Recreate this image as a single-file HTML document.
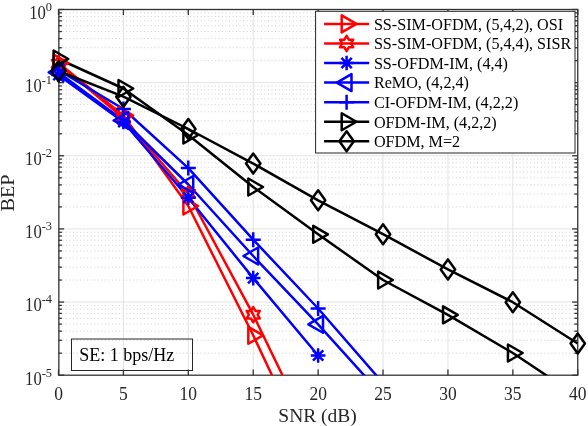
<!DOCTYPE html><html><head><meta charset="utf-8"><style>html,body{margin:0;padding:0;background:#fff;width:588px;height:426px;overflow:hidden;position:relative;font-family:"Liberation Serif",serif}</style></head><body><svg width="588" height="426" viewBox="0 0 588 426" style="position:absolute;left:0;top:0;will-change:transform">
<defs><clipPath id="ax"><rect x="58.5" y="9.5" width="519.25" height="365.7"/></clipPath></defs>
<g clip-path="url(#ax)">
<line x1="51.772" y1="60.62" x2="577.75" y2="60.62" stroke="#cfcfcf" stroke-width="1" stroke-dasharray="1 2.544"/>
<line x1="51.772" y1="47.74" x2="577.75" y2="47.74" stroke="#cfcfcf" stroke-width="1" stroke-dasharray="1 2.544"/>
<line x1="51.772" y1="38.61" x2="577.75" y2="38.61" stroke="#cfcfcf" stroke-width="1" stroke-dasharray="1 2.544"/>
<line x1="51.772" y1="31.52" x2="577.75" y2="31.52" stroke="#cfcfcf" stroke-width="1" stroke-dasharray="1 2.544"/>
<line x1="51.772" y1="25.73" x2="577.75" y2="25.73" stroke="#cfcfcf" stroke-width="1" stroke-dasharray="1 2.544"/>
<line x1="51.772" y1="20.83" x2="577.75" y2="20.83" stroke="#cfcfcf" stroke-width="1" stroke-dasharray="1 2.544"/>
<line x1="51.772" y1="16.59" x2="577.75" y2="16.59" stroke="#cfcfcf" stroke-width="1" stroke-dasharray="1 2.544"/>
<line x1="51.772" y1="12.85" x2="577.75" y2="12.85" stroke="#cfcfcf" stroke-width="1" stroke-dasharray="1 2.544"/>
<line x1="51.772" y1="133.76" x2="577.75" y2="133.76" stroke="#cfcfcf" stroke-width="1" stroke-dasharray="1 2.544"/>
<line x1="51.772" y1="120.88" x2="577.75" y2="120.88" stroke="#cfcfcf" stroke-width="1" stroke-dasharray="1 2.544"/>
<line x1="51.772" y1="111.75" x2="577.75" y2="111.75" stroke="#cfcfcf" stroke-width="1" stroke-dasharray="1 2.544"/>
<line x1="51.772" y1="104.66" x2="577.75" y2="104.66" stroke="#cfcfcf" stroke-width="1" stroke-dasharray="1 2.544"/>
<line x1="51.772" y1="98.87" x2="577.75" y2="98.87" stroke="#cfcfcf" stroke-width="1" stroke-dasharray="1 2.544"/>
<line x1="51.772" y1="93.97" x2="577.75" y2="93.97" stroke="#cfcfcf" stroke-width="1" stroke-dasharray="1 2.544"/>
<line x1="51.772" y1="89.73" x2="577.75" y2="89.73" stroke="#cfcfcf" stroke-width="1" stroke-dasharray="1 2.544"/>
<line x1="51.772" y1="85.99" x2="577.75" y2="85.99" stroke="#cfcfcf" stroke-width="1" stroke-dasharray="1 2.544"/>
<line x1="51.772" y1="206.90" x2="577.75" y2="206.90" stroke="#cfcfcf" stroke-width="1" stroke-dasharray="1 2.544"/>
<line x1="51.772" y1="194.02" x2="577.75" y2="194.02" stroke="#cfcfcf" stroke-width="1" stroke-dasharray="1 2.544"/>
<line x1="51.772" y1="184.89" x2="577.75" y2="184.89" stroke="#cfcfcf" stroke-width="1" stroke-dasharray="1 2.544"/>
<line x1="51.772" y1="177.80" x2="577.75" y2="177.80" stroke="#cfcfcf" stroke-width="1" stroke-dasharray="1 2.544"/>
<line x1="51.772" y1="172.01" x2="577.75" y2="172.01" stroke="#cfcfcf" stroke-width="1" stroke-dasharray="1 2.544"/>
<line x1="51.772" y1="167.11" x2="577.75" y2="167.11" stroke="#cfcfcf" stroke-width="1" stroke-dasharray="1 2.544"/>
<line x1="51.772" y1="162.87" x2="577.75" y2="162.87" stroke="#cfcfcf" stroke-width="1" stroke-dasharray="1 2.544"/>
<line x1="51.772" y1="159.13" x2="577.75" y2="159.13" stroke="#cfcfcf" stroke-width="1" stroke-dasharray="1 2.544"/>
<line x1="51.772" y1="280.04" x2="577.75" y2="280.04" stroke="#cfcfcf" stroke-width="1" stroke-dasharray="1 2.544"/>
<line x1="51.772" y1="267.16" x2="577.75" y2="267.16" stroke="#cfcfcf" stroke-width="1" stroke-dasharray="1 2.544"/>
<line x1="51.772" y1="258.03" x2="577.75" y2="258.03" stroke="#cfcfcf" stroke-width="1" stroke-dasharray="1 2.544"/>
<line x1="51.772" y1="250.94" x2="577.75" y2="250.94" stroke="#cfcfcf" stroke-width="1" stroke-dasharray="1 2.544"/>
<line x1="51.772" y1="245.15" x2="577.75" y2="245.15" stroke="#cfcfcf" stroke-width="1" stroke-dasharray="1 2.544"/>
<line x1="51.772" y1="240.25" x2="577.75" y2="240.25" stroke="#cfcfcf" stroke-width="1" stroke-dasharray="1 2.544"/>
<line x1="51.772" y1="236.01" x2="577.75" y2="236.01" stroke="#cfcfcf" stroke-width="1" stroke-dasharray="1 2.544"/>
<line x1="51.772" y1="232.27" x2="577.75" y2="232.27" stroke="#cfcfcf" stroke-width="1" stroke-dasharray="1 2.544"/>
<line x1="51.772" y1="353.18" x2="577.75" y2="353.18" stroke="#cfcfcf" stroke-width="1" stroke-dasharray="1 2.544"/>
<line x1="51.772" y1="340.30" x2="577.75" y2="340.30" stroke="#cfcfcf" stroke-width="1" stroke-dasharray="1 2.544"/>
<line x1="51.772" y1="331.17" x2="577.75" y2="331.17" stroke="#cfcfcf" stroke-width="1" stroke-dasharray="1 2.544"/>
<line x1="51.772" y1="324.08" x2="577.75" y2="324.08" stroke="#cfcfcf" stroke-width="1" stroke-dasharray="1 2.544"/>
<line x1="51.772" y1="318.29" x2="577.75" y2="318.29" stroke="#cfcfcf" stroke-width="1" stroke-dasharray="1 2.544"/>
<line x1="51.772" y1="313.39" x2="577.75" y2="313.39" stroke="#cfcfcf" stroke-width="1" stroke-dasharray="1 2.544"/>
<line x1="51.772" y1="309.15" x2="577.75" y2="309.15" stroke="#cfcfcf" stroke-width="1" stroke-dasharray="1 2.544"/>
<line x1="51.772" y1="305.41" x2="577.75" y2="305.41" stroke="#cfcfcf" stroke-width="1" stroke-dasharray="1 2.544"/>
<line x1="58.50" y1="82.64" x2="577.75" y2="82.64" stroke="#e3e3e3" stroke-width="1"/>
<line x1="58.50" y1="155.78" x2="577.75" y2="155.78" stroke="#e3e3e3" stroke-width="1"/>
<line x1="58.50" y1="228.92" x2="577.75" y2="228.92" stroke="#e3e3e3" stroke-width="1"/>
<line x1="58.50" y1="302.06" x2="577.75" y2="302.06" stroke="#e3e3e3" stroke-width="1"/>
<line x1="123.41" y1="9.50" x2="123.41" y2="375.20" stroke="#e3e3e3" stroke-width="1"/>
<line x1="188.31" y1="9.50" x2="188.31" y2="375.20" stroke="#e3e3e3" stroke-width="1"/>
<line x1="253.22" y1="9.50" x2="253.22" y2="375.20" stroke="#e3e3e3" stroke-width="1"/>
<line x1="318.12" y1="9.50" x2="318.12" y2="375.20" stroke="#e3e3e3" stroke-width="1"/>
<line x1="383.03" y1="9.50" x2="383.03" y2="375.20" stroke="#e3e3e3" stroke-width="1"/>
<line x1="447.94" y1="9.50" x2="447.94" y2="375.20" stroke="#e3e3e3" stroke-width="1"/>
<line x1="512.84" y1="9.50" x2="512.84" y2="375.20" stroke="#e3e3e3" stroke-width="1"/>
</g>
<rect x="71.5" y="339" width="121" height="31.5" fill="none" stroke="#262626" stroke-width="1"/>
<text x="79.3" y="361" font-family="Liberation Serif" font-size="18" fill="#000">SE: 1 bps/Hz</text>
<rect x="58.85" y="9.50" width="518.90" height="365.70" fill="none" stroke="#333333" stroke-width="1.3"/>
<line x1="58.50" y1="375.20" x2="58.50" y2="369.60" stroke="#333333" stroke-width="1.3"/>
<line x1="58.50" y1="9.50" x2="58.50" y2="15.10" stroke="#333333" stroke-width="1.3"/>
<line x1="123.41" y1="375.20" x2="123.41" y2="369.60" stroke="#333333" stroke-width="1.3"/>
<line x1="123.41" y1="9.50" x2="123.41" y2="15.10" stroke="#333333" stroke-width="1.3"/>
<line x1="188.31" y1="375.20" x2="188.31" y2="369.60" stroke="#333333" stroke-width="1.3"/>
<line x1="188.31" y1="9.50" x2="188.31" y2="15.10" stroke="#333333" stroke-width="1.3"/>
<line x1="253.22" y1="375.20" x2="253.22" y2="369.60" stroke="#333333" stroke-width="1.3"/>
<line x1="253.22" y1="9.50" x2="253.22" y2="15.10" stroke="#333333" stroke-width="1.3"/>
<line x1="318.12" y1="375.20" x2="318.12" y2="369.60" stroke="#333333" stroke-width="1.3"/>
<line x1="318.12" y1="9.50" x2="318.12" y2="15.10" stroke="#333333" stroke-width="1.3"/>
<line x1="383.03" y1="375.20" x2="383.03" y2="369.60" stroke="#333333" stroke-width="1.3"/>
<line x1="383.03" y1="9.50" x2="383.03" y2="15.10" stroke="#333333" stroke-width="1.3"/>
<line x1="447.94" y1="375.20" x2="447.94" y2="369.60" stroke="#333333" stroke-width="1.3"/>
<line x1="447.94" y1="9.50" x2="447.94" y2="15.10" stroke="#333333" stroke-width="1.3"/>
<line x1="512.84" y1="375.20" x2="512.84" y2="369.60" stroke="#333333" stroke-width="1.3"/>
<line x1="512.84" y1="9.50" x2="512.84" y2="15.10" stroke="#333333" stroke-width="1.3"/>
<line x1="577.75" y1="375.20" x2="577.75" y2="369.60" stroke="#333333" stroke-width="1.3"/>
<line x1="577.75" y1="9.50" x2="577.75" y2="15.10" stroke="#333333" stroke-width="1.3"/>
<line x1="58.50" y1="9.50" x2="64.10" y2="9.50" stroke="#333333" stroke-width="1.3"/>
<line x1="577.75" y1="9.50" x2="572.15" y2="9.50" stroke="#333333" stroke-width="1.3"/>
<line x1="58.50" y1="82.64" x2="64.10" y2="82.64" stroke="#333333" stroke-width="1.3"/>
<line x1="577.75" y1="82.64" x2="572.15" y2="82.64" stroke="#333333" stroke-width="1.3"/>
<line x1="58.50" y1="155.78" x2="64.10" y2="155.78" stroke="#333333" stroke-width="1.3"/>
<line x1="577.75" y1="155.78" x2="572.15" y2="155.78" stroke="#333333" stroke-width="1.3"/>
<line x1="58.50" y1="228.92" x2="64.10" y2="228.92" stroke="#333333" stroke-width="1.3"/>
<line x1="577.75" y1="228.92" x2="572.15" y2="228.92" stroke="#333333" stroke-width="1.3"/>
<line x1="58.50" y1="302.06" x2="64.10" y2="302.06" stroke="#333333" stroke-width="1.3"/>
<line x1="577.75" y1="302.06" x2="572.15" y2="302.06" stroke="#333333" stroke-width="1.3"/>
<line x1="58.50" y1="375.20" x2="64.10" y2="375.20" stroke="#333333" stroke-width="1.3"/>
<line x1="577.75" y1="375.20" x2="572.15" y2="375.20" stroke="#333333" stroke-width="1.3"/>
<line x1="58.50" y1="60.62" x2="61.90" y2="60.62" stroke="#333333" stroke-width="1.3"/>
<line x1="577.75" y1="60.62" x2="574.35" y2="60.62" stroke="#333333" stroke-width="1.3"/>
<line x1="58.50" y1="47.74" x2="61.90" y2="47.74" stroke="#333333" stroke-width="1.3"/>
<line x1="577.75" y1="47.74" x2="574.35" y2="47.74" stroke="#333333" stroke-width="1.3"/>
<line x1="58.50" y1="38.61" x2="61.90" y2="38.61" stroke="#333333" stroke-width="1.3"/>
<line x1="577.75" y1="38.61" x2="574.35" y2="38.61" stroke="#333333" stroke-width="1.3"/>
<line x1="58.50" y1="31.52" x2="61.90" y2="31.52" stroke="#333333" stroke-width="1.3"/>
<line x1="577.75" y1="31.52" x2="574.35" y2="31.52" stroke="#333333" stroke-width="1.3"/>
<line x1="58.50" y1="25.73" x2="61.90" y2="25.73" stroke="#333333" stroke-width="1.3"/>
<line x1="577.75" y1="25.73" x2="574.35" y2="25.73" stroke="#333333" stroke-width="1.3"/>
<line x1="58.50" y1="20.83" x2="61.90" y2="20.83" stroke="#333333" stroke-width="1.3"/>
<line x1="577.75" y1="20.83" x2="574.35" y2="20.83" stroke="#333333" stroke-width="1.3"/>
<line x1="58.50" y1="16.59" x2="61.90" y2="16.59" stroke="#333333" stroke-width="1.3"/>
<line x1="577.75" y1="16.59" x2="574.35" y2="16.59" stroke="#333333" stroke-width="1.3"/>
<line x1="58.50" y1="12.85" x2="61.90" y2="12.85" stroke="#333333" stroke-width="1.3"/>
<line x1="577.75" y1="12.85" x2="574.35" y2="12.85" stroke="#333333" stroke-width="1.3"/>
<line x1="58.50" y1="133.76" x2="61.90" y2="133.76" stroke="#333333" stroke-width="1.3"/>
<line x1="577.75" y1="133.76" x2="574.35" y2="133.76" stroke="#333333" stroke-width="1.3"/>
<line x1="58.50" y1="120.88" x2="61.90" y2="120.88" stroke="#333333" stroke-width="1.3"/>
<line x1="577.75" y1="120.88" x2="574.35" y2="120.88" stroke="#333333" stroke-width="1.3"/>
<line x1="58.50" y1="111.75" x2="61.90" y2="111.75" stroke="#333333" stroke-width="1.3"/>
<line x1="577.75" y1="111.75" x2="574.35" y2="111.75" stroke="#333333" stroke-width="1.3"/>
<line x1="58.50" y1="104.66" x2="61.90" y2="104.66" stroke="#333333" stroke-width="1.3"/>
<line x1="577.75" y1="104.66" x2="574.35" y2="104.66" stroke="#333333" stroke-width="1.3"/>
<line x1="58.50" y1="98.87" x2="61.90" y2="98.87" stroke="#333333" stroke-width="1.3"/>
<line x1="577.75" y1="98.87" x2="574.35" y2="98.87" stroke="#333333" stroke-width="1.3"/>
<line x1="58.50" y1="93.97" x2="61.90" y2="93.97" stroke="#333333" stroke-width="1.3"/>
<line x1="577.75" y1="93.97" x2="574.35" y2="93.97" stroke="#333333" stroke-width="1.3"/>
<line x1="58.50" y1="89.73" x2="61.90" y2="89.73" stroke="#333333" stroke-width="1.3"/>
<line x1="577.75" y1="89.73" x2="574.35" y2="89.73" stroke="#333333" stroke-width="1.3"/>
<line x1="58.50" y1="85.99" x2="61.90" y2="85.99" stroke="#333333" stroke-width="1.3"/>
<line x1="577.75" y1="85.99" x2="574.35" y2="85.99" stroke="#333333" stroke-width="1.3"/>
<line x1="58.50" y1="206.90" x2="61.90" y2="206.90" stroke="#333333" stroke-width="1.3"/>
<line x1="577.75" y1="206.90" x2="574.35" y2="206.90" stroke="#333333" stroke-width="1.3"/>
<line x1="58.50" y1="194.02" x2="61.90" y2="194.02" stroke="#333333" stroke-width="1.3"/>
<line x1="577.75" y1="194.02" x2="574.35" y2="194.02" stroke="#333333" stroke-width="1.3"/>
<line x1="58.50" y1="184.89" x2="61.90" y2="184.89" stroke="#333333" stroke-width="1.3"/>
<line x1="577.75" y1="184.89" x2="574.35" y2="184.89" stroke="#333333" stroke-width="1.3"/>
<line x1="58.50" y1="177.80" x2="61.90" y2="177.80" stroke="#333333" stroke-width="1.3"/>
<line x1="577.75" y1="177.80" x2="574.35" y2="177.80" stroke="#333333" stroke-width="1.3"/>
<line x1="58.50" y1="172.01" x2="61.90" y2="172.01" stroke="#333333" stroke-width="1.3"/>
<line x1="577.75" y1="172.01" x2="574.35" y2="172.01" stroke="#333333" stroke-width="1.3"/>
<line x1="58.50" y1="167.11" x2="61.90" y2="167.11" stroke="#333333" stroke-width="1.3"/>
<line x1="577.75" y1="167.11" x2="574.35" y2="167.11" stroke="#333333" stroke-width="1.3"/>
<line x1="58.50" y1="162.87" x2="61.90" y2="162.87" stroke="#333333" stroke-width="1.3"/>
<line x1="577.75" y1="162.87" x2="574.35" y2="162.87" stroke="#333333" stroke-width="1.3"/>
<line x1="58.50" y1="159.13" x2="61.90" y2="159.13" stroke="#333333" stroke-width="1.3"/>
<line x1="577.75" y1="159.13" x2="574.35" y2="159.13" stroke="#333333" stroke-width="1.3"/>
<line x1="58.50" y1="280.04" x2="61.90" y2="280.04" stroke="#333333" stroke-width="1.3"/>
<line x1="577.75" y1="280.04" x2="574.35" y2="280.04" stroke="#333333" stroke-width="1.3"/>
<line x1="58.50" y1="267.16" x2="61.90" y2="267.16" stroke="#333333" stroke-width="1.3"/>
<line x1="577.75" y1="267.16" x2="574.35" y2="267.16" stroke="#333333" stroke-width="1.3"/>
<line x1="58.50" y1="258.03" x2="61.90" y2="258.03" stroke="#333333" stroke-width="1.3"/>
<line x1="577.75" y1="258.03" x2="574.35" y2="258.03" stroke="#333333" stroke-width="1.3"/>
<line x1="58.50" y1="250.94" x2="61.90" y2="250.94" stroke="#333333" stroke-width="1.3"/>
<line x1="577.75" y1="250.94" x2="574.35" y2="250.94" stroke="#333333" stroke-width="1.3"/>
<line x1="58.50" y1="245.15" x2="61.90" y2="245.15" stroke="#333333" stroke-width="1.3"/>
<line x1="577.75" y1="245.15" x2="574.35" y2="245.15" stroke="#333333" stroke-width="1.3"/>
<line x1="58.50" y1="240.25" x2="61.90" y2="240.25" stroke="#333333" stroke-width="1.3"/>
<line x1="577.75" y1="240.25" x2="574.35" y2="240.25" stroke="#333333" stroke-width="1.3"/>
<line x1="58.50" y1="236.01" x2="61.90" y2="236.01" stroke="#333333" stroke-width="1.3"/>
<line x1="577.75" y1="236.01" x2="574.35" y2="236.01" stroke="#333333" stroke-width="1.3"/>
<line x1="58.50" y1="232.27" x2="61.90" y2="232.27" stroke="#333333" stroke-width="1.3"/>
<line x1="577.75" y1="232.27" x2="574.35" y2="232.27" stroke="#333333" stroke-width="1.3"/>
<line x1="58.50" y1="353.18" x2="61.90" y2="353.18" stroke="#333333" stroke-width="1.3"/>
<line x1="577.75" y1="353.18" x2="574.35" y2="353.18" stroke="#333333" stroke-width="1.3"/>
<line x1="58.50" y1="340.30" x2="61.90" y2="340.30" stroke="#333333" stroke-width="1.3"/>
<line x1="577.75" y1="340.30" x2="574.35" y2="340.30" stroke="#333333" stroke-width="1.3"/>
<line x1="58.50" y1="331.17" x2="61.90" y2="331.17" stroke="#333333" stroke-width="1.3"/>
<line x1="577.75" y1="331.17" x2="574.35" y2="331.17" stroke="#333333" stroke-width="1.3"/>
<line x1="58.50" y1="324.08" x2="61.90" y2="324.08" stroke="#333333" stroke-width="1.3"/>
<line x1="577.75" y1="324.08" x2="574.35" y2="324.08" stroke="#333333" stroke-width="1.3"/>
<line x1="58.50" y1="318.29" x2="61.90" y2="318.29" stroke="#333333" stroke-width="1.3"/>
<line x1="577.75" y1="318.29" x2="574.35" y2="318.29" stroke="#333333" stroke-width="1.3"/>
<line x1="58.50" y1="313.39" x2="61.90" y2="313.39" stroke="#333333" stroke-width="1.3"/>
<line x1="577.75" y1="313.39" x2="574.35" y2="313.39" stroke="#333333" stroke-width="1.3"/>
<line x1="58.50" y1="309.15" x2="61.90" y2="309.15" stroke="#333333" stroke-width="1.3"/>
<line x1="577.75" y1="309.15" x2="574.35" y2="309.15" stroke="#333333" stroke-width="1.3"/>
<line x1="58.50" y1="305.41" x2="61.90" y2="305.41" stroke="#333333" stroke-width="1.3"/>
<line x1="577.75" y1="305.41" x2="574.35" y2="305.41" stroke="#333333" stroke-width="1.3"/>
<g clip-path="url(#ax)">
<path d="M58.50,63.00 L123.41,115.50 L188.31,206.00 L253.22,335.30 L318.12,473.50" fill="none" stroke="#ff0000" stroke-width="2.5" stroke-linejoin="round"/>
<path d="M58.50,63.70 L123.41,118.00 L188.31,194.00 L253.22,314.70 L318.12,449.00" fill="none" stroke="#ff0000" stroke-width="2.5" stroke-linejoin="round"/>
<path d="M58.50,75.00 L123.41,122.00 L188.31,197.80 L253.22,278.10 L318.12,355.50" fill="none" stroke="#0000ff" stroke-width="2.5" stroke-linejoin="round"/>
<path d="M58.50,72.40 L123.41,120.50 L188.31,184.50 L253.22,256.00 L318.12,324.30 L383.03,396.30" fill="none" stroke="#0000ff" stroke-width="2.5" stroke-linejoin="round"/>
<path d="M58.50,70.00 L123.41,109.00 L188.31,168.10 L253.22,239.70 L318.12,308.50 L383.03,383.10" fill="none" stroke="#0000ff" stroke-width="2.5" stroke-linejoin="round"/>
<path d="M58.50,59.00 L123.41,88.50 L188.31,135.00 L253.22,187.00 L318.12,234.30 L383.03,280.00 L447.94,314.85 L512.84,353.00 L577.75,396.30" fill="none" stroke="#000000" stroke-width="2.5" stroke-linejoin="round"/>
<path d="M58.50,71.00 L123.41,96.70 L188.31,129.00 L253.22,163.60 L318.12,200.30 L383.03,234.20 L447.94,269.40 L512.84,302.20 L577.75,343.50" fill="none" stroke="#000000" stroke-width="2.5" stroke-linejoin="round"/>
</g>
<polygon points="68.30,63.00 53.60,54.51 53.60,71.49" fill="none" stroke="#ff0000" stroke-width="2.5" stroke-linejoin="round"/>
<polygon points="133.21,115.50 118.51,107.01 118.51,123.99" fill="none" stroke="#ff0000" stroke-width="2.5" stroke-linejoin="round"/>
<polygon points="198.11,206.00 183.41,197.51 183.41,214.49" fill="none" stroke="#ff0000" stroke-width="2.5" stroke-linejoin="round"/>
<polygon points="263.02,335.30 248.32,326.81 248.32,343.79" fill="none" stroke="#ff0000" stroke-width="2.5" stroke-linejoin="round"/>
<polygon points="58.50,56.10 56.31,59.90 51.92,59.90 54.11,63.70 51.92,67.50 56.31,67.50 58.50,71.30 60.69,67.50 65.08,67.50 62.89,63.70 65.08,59.90 60.69,59.90" fill="none" stroke="#ff0000" stroke-width="2.5" stroke-linejoin="round"/>
<polygon points="123.41,110.40 121.21,114.20 116.82,114.20 119.02,118.00 116.82,121.80 121.21,121.80 123.41,125.60 125.60,121.80 129.99,121.80 127.79,118.00 129.99,114.20 125.60,114.20" fill="none" stroke="#ff0000" stroke-width="2.5" stroke-linejoin="round"/>
<polygon points="188.31,186.40 186.12,190.20 181.73,190.20 183.92,194.00 181.73,197.80 186.12,197.80 188.31,201.60 190.51,197.80 194.89,197.80 192.70,194.00 194.89,190.20 190.51,190.20" fill="none" stroke="#ff0000" stroke-width="2.5" stroke-linejoin="round"/>
<polygon points="253.22,307.10 251.02,310.90 246.64,310.90 248.83,314.70 246.64,318.50 251.02,318.50 253.22,322.30 255.41,318.50 259.80,318.50 257.61,314.70 259.80,310.90 255.41,310.90" fill="none" stroke="#ff0000" stroke-width="2.5" stroke-linejoin="round"/>
<path d="M51.20,75.00H65.80M58.50,67.70V82.30M53.34,69.84L63.66,80.16M53.34,80.16L63.66,69.84" fill="none" stroke="#0000ff" stroke-width="2.5" stroke-linejoin="round"/>
<path d="M116.11,122.00H130.71M123.41,114.70V129.30M118.24,116.84L128.57,127.16M118.24,127.16L128.57,116.84" fill="none" stroke="#0000ff" stroke-width="2.5" stroke-linejoin="round"/>
<path d="M181.01,197.80H195.61M188.31,190.50V205.10M183.15,192.64L193.47,202.96M183.15,202.96L193.47,192.64" fill="none" stroke="#0000ff" stroke-width="2.5" stroke-linejoin="round"/>
<path d="M245.92,278.10H260.52M253.22,270.80V285.40M248.06,272.94L258.38,283.26M248.06,283.26L258.38,272.94" fill="none" stroke="#0000ff" stroke-width="2.5" stroke-linejoin="round"/>
<path d="M310.82,355.50H325.43M318.12,348.20V362.80M312.96,350.34L323.29,360.66M312.96,360.66L323.29,350.34" fill="none" stroke="#0000ff" stroke-width="2.5" stroke-linejoin="round"/>
<polygon points="48.70,72.40 63.40,63.91 63.40,80.89" fill="none" stroke="#0000ff" stroke-width="2.5" stroke-linejoin="round"/>
<polygon points="113.61,120.50 128.31,112.01 128.31,128.99" fill="none" stroke="#0000ff" stroke-width="2.5" stroke-linejoin="round"/>
<polygon points="178.51,184.50 193.21,176.01 193.21,192.99" fill="none" stroke="#0000ff" stroke-width="2.5" stroke-linejoin="round"/>
<polygon points="243.42,256.00 258.12,247.51 258.12,264.49" fill="none" stroke="#0000ff" stroke-width="2.5" stroke-linejoin="round"/>
<polygon points="308.32,324.30 323.02,315.81 323.02,332.79" fill="none" stroke="#0000ff" stroke-width="2.5" stroke-linejoin="round"/>
<path d="M51.00,70.00H66.00M58.50,62.50V77.50" fill="none" stroke="#0000ff" stroke-width="2.5" stroke-linejoin="round"/>
<path d="M115.91,109.00H130.91M123.41,101.50V116.50" fill="none" stroke="#0000ff" stroke-width="2.5" stroke-linejoin="round"/>
<path d="M180.81,168.10H195.81M188.31,160.60V175.60" fill="none" stroke="#0000ff" stroke-width="2.5" stroke-linejoin="round"/>
<path d="M245.72,239.70H260.72M253.22,232.20V247.20" fill="none" stroke="#0000ff" stroke-width="2.5" stroke-linejoin="round"/>
<path d="M310.62,308.50H325.62M318.12,301.00V316.00" fill="none" stroke="#0000ff" stroke-width="2.5" stroke-linejoin="round"/>
<polygon points="68.30,59.00 53.60,50.51 53.60,67.49" fill="none" stroke="#000000" stroke-width="2.5" stroke-linejoin="round"/>
<polygon points="133.21,88.50 118.51,80.01 118.51,96.99" fill="none" stroke="#000000" stroke-width="2.5" stroke-linejoin="round"/>
<polygon points="198.11,135.00 183.41,126.51 183.41,143.49" fill="none" stroke="#000000" stroke-width="2.5" stroke-linejoin="round"/>
<polygon points="263.02,187.00 248.32,178.51 248.32,195.49" fill="none" stroke="#000000" stroke-width="2.5" stroke-linejoin="round"/>
<polygon points="327.93,234.30 313.23,225.81 313.23,242.79" fill="none" stroke="#000000" stroke-width="2.5" stroke-linejoin="round"/>
<polygon points="392.83,280.00 378.13,271.51 378.13,288.49" fill="none" stroke="#000000" stroke-width="2.5" stroke-linejoin="round"/>
<polygon points="457.74,314.85 443.04,306.36 443.04,323.34" fill="none" stroke="#000000" stroke-width="2.5" stroke-linejoin="round"/>
<polygon points="522.64,353.00 507.94,344.51 507.94,361.49" fill="none" stroke="#000000" stroke-width="2.5" stroke-linejoin="round"/>
<polygon points="58.50,61.00 65.70,71.00 58.50,81.00 51.30,71.00" fill="none" stroke="#000000" stroke-width="2.5" stroke-linejoin="round"/>
<polygon points="123.41,86.70 130.61,96.70 123.41,106.70 116.21,96.70" fill="none" stroke="#000000" stroke-width="2.5" stroke-linejoin="round"/>
<polygon points="188.31,119.00 195.51,129.00 188.31,139.00 181.11,129.00" fill="none" stroke="#000000" stroke-width="2.5" stroke-linejoin="round"/>
<polygon points="253.22,153.60 260.42,163.60 253.22,173.60 246.02,163.60" fill="none" stroke="#000000" stroke-width="2.5" stroke-linejoin="round"/>
<polygon points="318.12,190.30 325.32,200.30 318.12,210.30 310.93,200.30" fill="none" stroke="#000000" stroke-width="2.5" stroke-linejoin="round"/>
<polygon points="383.03,224.20 390.23,234.20 383.03,244.20 375.83,234.20" fill="none" stroke="#000000" stroke-width="2.5" stroke-linejoin="round"/>
<polygon points="447.94,259.40 455.14,269.40 447.94,279.40 440.74,269.40" fill="none" stroke="#000000" stroke-width="2.5" stroke-linejoin="round"/>
<polygon points="512.84,292.20 520.04,302.20 512.84,312.20 505.64,302.20" fill="none" stroke="#000000" stroke-width="2.5" stroke-linejoin="round"/>
<polygon points="577.75,333.50 584.95,343.50 577.75,353.50 570.55,343.50" fill="none" stroke="#000000" stroke-width="2.5" stroke-linejoin="round"/>
<rect x="315.6" y="11.3" width="259.40" height="141.70" fill="#fff" stroke="#262626" stroke-width="1"/>
<line x1="324.1" y1="23.90" x2="369.2" y2="23.90" stroke="#ff0000" stroke-width="2.5"/>
<polygon points="356.40,23.90 341.70,15.41 341.70,32.39" fill="none" stroke="#ff0000" stroke-width="2.5" stroke-linejoin="round"/>
<text x="373.9" y="29.70" font-family="Liberation Serif" font-size="16.15" fill="#000">SS-SIM-OFDM, (5,4,2), OSI</text>
<line x1="324.1" y1="43.47" x2="369.2" y2="43.47" stroke="#ff0000" stroke-width="2.5"/>
<polygon points="346.60,35.87 344.41,39.67 340.02,39.67 342.21,43.47 340.02,47.27 344.41,47.27 346.60,51.07 348.79,47.27 353.18,47.27 350.99,43.47 353.18,39.67 348.79,39.67" fill="none" stroke="#ff0000" stroke-width="2.5" stroke-linejoin="round"/>
<text x="373.9" y="49.27" font-family="Liberation Serif" font-size="16.15" fill="#000">SS-SIM-OFDM, (5,4,4), SISR</text>
<line x1="324.1" y1="63.04" x2="369.2" y2="63.04" stroke="#0000ff" stroke-width="2.5"/>
<path d="M339.30,63.04H353.90M346.60,55.74V70.34M341.44,57.88L351.76,68.20M341.44,68.20L351.76,57.88" fill="none" stroke="#0000ff" stroke-width="2.5" stroke-linejoin="round"/>
<text x="373.9" y="68.84" font-family="Liberation Serif" font-size="16.15" fill="#000">SS-OFDM-IM, (4,4)</text>
<line x1="324.1" y1="82.61" x2="369.2" y2="82.61" stroke="#0000ff" stroke-width="2.5"/>
<polygon points="336.80,82.61 351.50,74.12 351.50,91.10" fill="none" stroke="#0000ff" stroke-width="2.5" stroke-linejoin="round"/>
<text x="373.9" y="88.41" font-family="Liberation Serif" font-size="16.15" fill="#000">ReMO, (4,2,4)</text>
<line x1="324.1" y1="102.18" x2="369.2" y2="102.18" stroke="#0000ff" stroke-width="2.5"/>
<path d="M339.10,102.18H354.10M346.60,94.68V109.68" fill="none" stroke="#0000ff" stroke-width="2.5" stroke-linejoin="round"/>
<text x="373.9" y="107.98" font-family="Liberation Serif" font-size="16.15" fill="#000">CI-OFDM-IM, (4,2,2)</text>
<line x1="324.1" y1="121.75" x2="369.2" y2="121.75" stroke="#000000" stroke-width="2.5"/>
<polygon points="356.40,121.75 341.70,113.26 341.70,130.24" fill="none" stroke="#000000" stroke-width="2.5" stroke-linejoin="round"/>
<text x="373.9" y="127.55" font-family="Liberation Serif" font-size="16.15" fill="#000">OFDM-IM, (4,2,2)</text>
<line x1="324.1" y1="141.32" x2="369.2" y2="141.32" stroke="#000000" stroke-width="2.5"/>
<polygon points="346.60,131.32 353.80,141.32 346.60,151.32 339.40,141.32" fill="none" stroke="#000000" stroke-width="2.5" stroke-linejoin="round"/>
<text x="373.9" y="147.12" font-family="Liberation Serif" font-size="16.15" fill="#000">OFDM, M=2</text>
<text transform="translate(58.50,399.6) scale(1,1.06)" text-anchor="middle" font-family="Liberation Serif" font-size="17.5" fill="#262626">0</text>
<text transform="translate(123.41,399.6) scale(1,1.06)" text-anchor="middle" font-family="Liberation Serif" font-size="17.5" fill="#262626">5</text>
<text transform="translate(188.31,399.6) scale(1,1.06)" text-anchor="middle" font-family="Liberation Serif" font-size="17.5" fill="#262626">10</text>
<text transform="translate(253.22,399.6) scale(1,1.06)" text-anchor="middle" font-family="Liberation Serif" font-size="17.5" fill="#262626">15</text>
<text transform="translate(318.12,399.6) scale(1,1.06)" text-anchor="middle" font-family="Liberation Serif" font-size="17.5" fill="#262626">20</text>
<text transform="translate(383.03,399.6) scale(1,1.06)" text-anchor="middle" font-family="Liberation Serif" font-size="17.5" fill="#262626">25</text>
<text transform="translate(447.94,399.6) scale(1,1.06)" text-anchor="middle" font-family="Liberation Serif" font-size="17.5" fill="#262626">30</text>
<text transform="translate(512.84,399.6) scale(1,1.06)" text-anchor="middle" font-family="Liberation Serif" font-size="17.5" fill="#262626">35</text>
<text transform="translate(577.75,399.6) scale(1,1.06)" text-anchor="middle" font-family="Liberation Serif" font-size="17.5" fill="#262626">40</text>
<text transform="translate(52,18.80) scale(0.95,1.02)" text-anchor="end" font-family="Liberation Serif" font-size="17.5" fill="#262626">10<tspan dy="-7.8" font-size="13">0</tspan></text>
<text transform="translate(52,91.94) scale(0.95,1.02)" text-anchor="end" font-family="Liberation Serif" font-size="17.5" fill="#262626">10<tspan dy="-7.8" font-size="13">-1</tspan></text>
<text transform="translate(52,165.08) scale(0.95,1.02)" text-anchor="end" font-family="Liberation Serif" font-size="17.5" fill="#262626">10<tspan dy="-7.8" font-size="13">-2</tspan></text>
<text transform="translate(52,238.22) scale(0.95,1.02)" text-anchor="end" font-family="Liberation Serif" font-size="17.5" fill="#262626">10<tspan dy="-7.8" font-size="13">-3</tspan></text>
<text transform="translate(52,311.36) scale(0.95,1.02)" text-anchor="end" font-family="Liberation Serif" font-size="17.5" fill="#262626">10<tspan dy="-7.8" font-size="13">-4</tspan></text>
<text transform="translate(52,384.50) scale(0.95,1.02)" text-anchor="end" font-family="Liberation Serif" font-size="17.5" fill="#262626">10<tspan dy="-7.8" font-size="13">-5</tspan></text>
<text x="317.6" y="422" text-anchor="middle" font-family="Liberation Serif" font-size="19.5" fill="#262626">SNR (dB)</text>
<text transform="translate(13.6,193) rotate(-90) scale(1.12,1)" text-anchor="middle" font-family="Liberation Serif" font-size="18" fill="#262626">BEP</text>
</svg></body></html>
